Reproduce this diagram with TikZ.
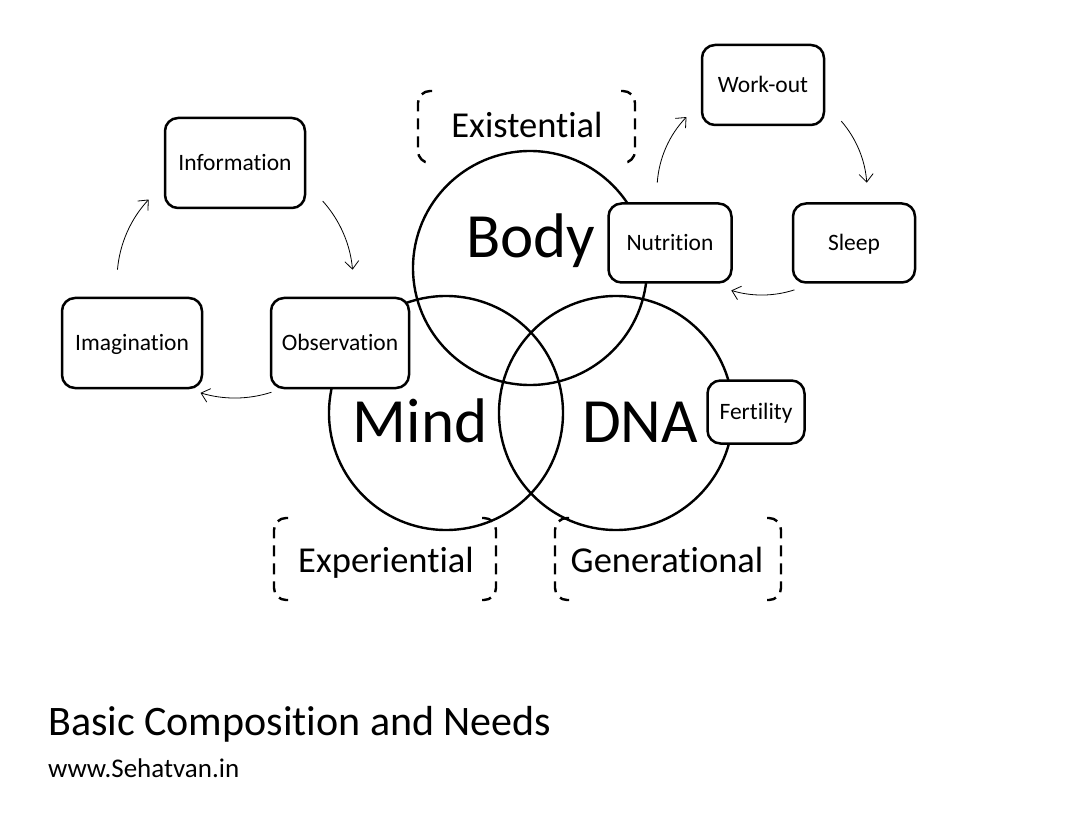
\documentclass[tikz,border=0pt]{standalone}
\usepackage{fontspec}
\setmainfont{Carlito}[Ligatures=NoCommon]
\usetikzlibrary{arrows.meta,positioning,calc}
\tikzset{
  venn/.style={circle,draw=black,line width=2.4pt,minimum size=234pt,inner sep=0pt},
  stepbox/.style={
    draw=black,
    fill=white,
    line width=2.5pt,
    rounded corners=13pt,
    align=center,
    font=\fontsize{23.5}{27}\selectfont,
    text height=15.1pt,
    text depth=0pt,
    inner sep=0pt
  },
  bigword/.style={font=\fontsize{63}{70}\selectfont,anchor=base,inner sep=0pt},
  aspect/.style={font=\fontsize{36.5}{40}\selectfont,anchor=base,inner sep=0pt},
  bracket/.style={line width=2.4pt,dash pattern=on 11pt off 7pt,rounded corners=12pt},
  cyclearrow/.style={-{Straight Barb[length=8pt,width=14pt]},line width=0.8pt}
}
\begin{document}
\begin{tikzpicture}[x=1pt,y=-1pt]
  \useasboundingbox (0,0) rectangle (1090,818);
  % the three circles
  \node[venn] (body) at (530,268) {};
  \node[venn] (mind) at (446,413) {};
  \node[venn] (dna) at (616,413) {};
  \node[bigword] (bodytxt) at (531,258) {Body};
  \node[bigword] (mindtxt) at (420,442) {Mind};
  \node[bigword] (dnatxt) at (640,442) {DNA};

  % aspects with dashed brackets
  \node[aspect] (exist) at (527,138) {Existential};
  \node[aspect] (exper) at (386,572) {Experiential};
  \node[aspect] (gener) at (667,572) {Generational};
  \foreach \l/\r/\t/\b in {418/635/91/163, 274/496/518/600, 555/781/518/600}{
    \draw[bracket] (\l+14,\t) -- (\l,\t) -- (\l,\b) -- (\l+14,\b);
    \draw[bracket] (\r-14,\t) -- (\r,\t) -- (\r,\b) -- (\r-14,\b);
  }

  % mind cycle
  \node[stepbox, minimum width=140, minimum height=90] (info) at (235,163) {Information};
  \node[stepbox, minimum width=140, minimum height=90] (imag) at (132,343) {Imagination};
  \node[stepbox, minimum width=138, minimum height=90] (obs) at (340,343) {Observation};
  \coordinate (mindcyc) at (235,280);
  \foreach \a/\b in {-175/-137, -42/-5, 72/107}
    \draw[cyclearrow] ($(mindcyc)+(\a:118)$) arc[start angle=\a, end angle=\b, radius=118];

  % body cycle
  \node[stepbox, minimum width=122, minimum height=80] (work) at (763,85) {Work-out};
  \node[stepbox, minimum width=123, minimum height=79] (nutr) at (670,243) {Nutrition};
  \node[stepbox, minimum width=122, minimum height=79] (sleep) at (854,243) {Sleep};
  \coordinate (bodycyc) at (762,190);
  \foreach \a/\b in {-176/-136, -41/-4, 72/107}
    \draw[cyclearrow] ($(bodycyc)+(\a:105)$) arc[start angle=\a, end angle=\b, radius=105];

  % dna
  \node[stepbox, minimum width=97, minimum height=63] (fert) at (756,412) {Fertility};

  % caption
  \node[anchor=base west, inner sep=0pt, font=\fontsize{42}{48}\selectfont] (title) at (48,735) {Basic Composition and Needs};
  \node[anchor=base west, inner sep=0pt, font=\fontsize{27}{30}\selectfont] (site) at (48,777) {www.Sehatvan.in};
\end{tikzpicture}
\end{document}
